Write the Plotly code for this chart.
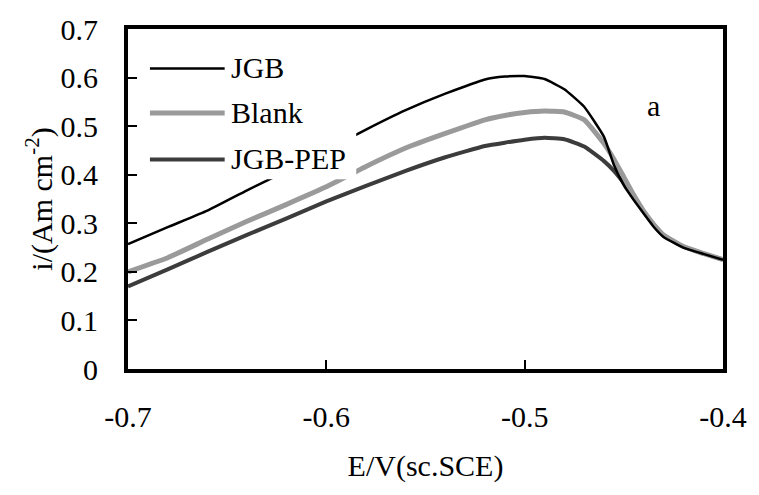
import plotly.graph_objects as go

E = [-0.70, -0.68, -0.66, -0.64, -0.62, -0.60, -0.58, -0.56, -0.54, -0.52,
     -0.51, -0.50, -0.49, -0.48, -0.47, -0.46, -0.455, -0.45, -0.445, -0.44,
     -0.435, -0.43, -0.42, -0.41, -0.40]

i_jgb = [0.257, 0.292, 0.326, 0.368, 0.408, 0.450, 0.493, 0.533, 0.567, 0.596,
         0.602, 0.603, 0.597, 0.576, 0.540, 0.478, 0.420, 0.378, 0.348, 0.320,
         0.293, 0.272, 0.250, 0.237, 0.225]
i_blank = [0.200, 0.229, 0.267, 0.304, 0.339, 0.375, 0.417, 0.455, 0.485, 0.513,
           0.522, 0.528, 0.531, 0.529, 0.513, 0.464, 0.432, 0.395, 0.358, 0.325,
           0.298, 0.276, 0.252, 0.238, 0.225]
i_pep = [0.170, 0.205, 0.241, 0.276, 0.310, 0.345, 0.377, 0.408, 0.436, 0.459,
         0.466, 0.472, 0.476, 0.473, 0.458, 0.428, 0.408, 0.383, 0.355, 0.325,
         0.298, 0.276, 0.252, 0.238, 0.225]

names = ["JGB", "Blank", "JGB-PEP"]
colors = ["#000000", "#9a9a9a", "#3c3c3c"]
widths = [2.5, 5, 4]
series = [i_jgb, i_blank, i_pep]

x_ticks = [-0.7, -0.6, -0.5, -0.4]
x_labels = ["-0.7", "-0.6", "-0.5", "-0.4"]
y_ticks = [0, 0.1, 0.2, 0.3, 0.4, 0.5, 0.6, 0.7]
y_labels = ["0", "0.1", "0.2", "0.3", "0.4", "0.5", "0.6", "0.7"]

FONT = "Times New Roman, Liberation Serif, serif"

fig = go.Figure()
for k in [2, 1, 0]:
    fig.add_trace(go.Scatter(x=E, y=series[k], mode="lines", name=names[k],
                             line=dict(color=colors[k], width=widths[k], shape="spline", smoothing=0.4),
                             showlegend=False))

W, H = 759, 495
L, R, T, B = 128, 34, 25, 126
pw, ph = W - L - R, H - T - B

def px(x):
    return (x - L) / pw

def py(y):
    return (H - B - y) / ph

shapes = [dict(type="rect", xref="paper", yref="paper", x0=px(140), x1=px(357),
               y0=py(177), y1=py(40), fillcolor="white", line=dict(width=0), layer="above")]
annotations = []
leg_y = [64, 109, 156]
for k in range(3):
    shapes.append(dict(type="line", xref="paper", yref="paper", x0=px(150), x1=px(225),
                       y0=py(leg_y[k] + 1), y1=py(leg_y[k] + 1),
                       line=dict(color=colors[k], width=widths[k]), layer="above"))
    annotations.append(dict(xref="paper", yref="paper", x=px(229), y=py(leg_y[k]),
                            text=names[k], showarrow=False, xanchor="left", yanchor="middle",
                            font=dict(family=FONT, size=30, color="black")))
annotations.append(dict(xref="paper", yref="paper", x=px(655), y=py(102), text="a",
                        showarrow=False, xanchor="center", yanchor="middle",
                        font=dict(family=FONT, size=30, color="black")))

fig.update_layout(
    width=W, height=H,
    margin=dict(l=L, r=R, t=T, b=B),
    paper_bgcolor="white", plot_bgcolor="white",
    font=dict(family=FONT, size=30, color="black"),
    shapes=shapes, annotations=annotations,
    xaxis=dict(range=[-0.7, -0.4], tickvals=x_ticks, ticktext=x_labels,
               showgrid=False, zeroline=False, showline=True, linewidth=4, linecolor="black",
               mirror=True, ticks="inside", ticklen=9, tickwidth=2, tickcolor="black",
               ticklabelstandoff=18, tickfont=dict(family=FONT, size=30),
               title=dict(text="E/V(sc.SCE)", font=dict(family=FONT, size=30), standoff=24)),
    yaxis=dict(range=[0, 0.7], tickvals=y_ticks, ticktext=y_labels,
               showgrid=False, zeroline=False, showline=True, linewidth=4, linecolor="black",
               mirror=True, ticks="inside", ticklen=9, tickwidth=2, tickcolor="black",
               ticklabelstandoff=20, tickfont=dict(family=FONT, size=30),
               title=dict(text="i/(Am cm<sup>-2</sup>)", font=dict(family=FONT, size=30), standoff=0)),
)

fig.write_html("out.html")
